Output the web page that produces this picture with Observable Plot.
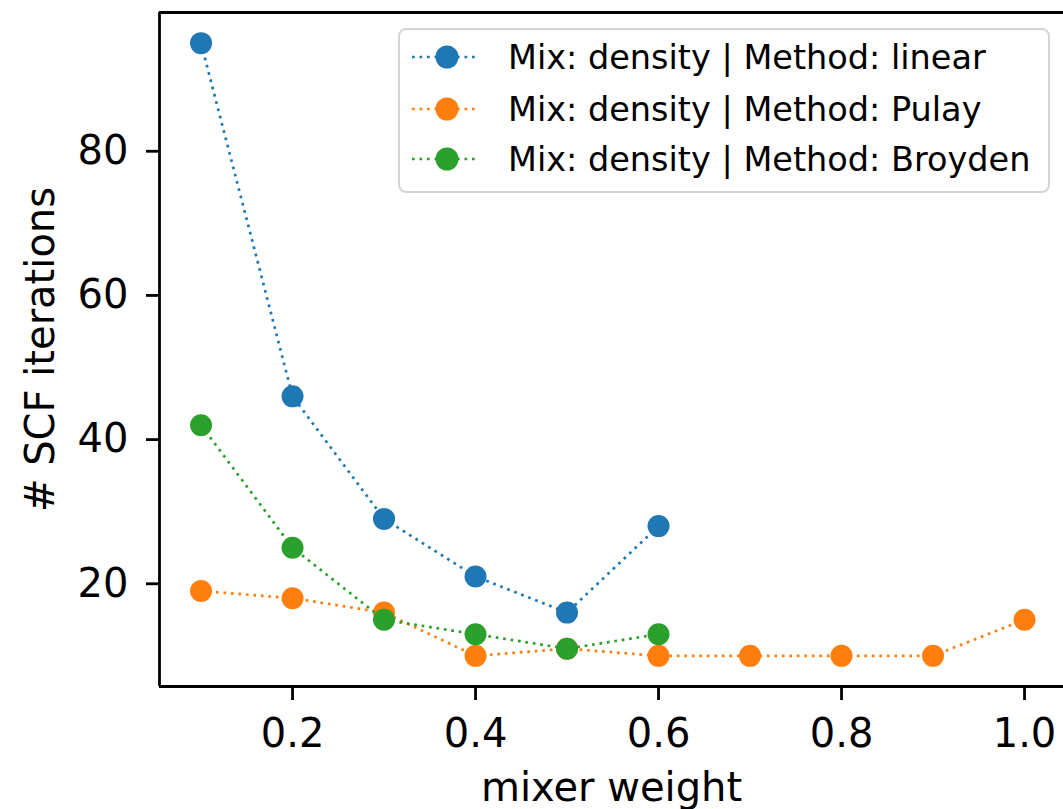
<!DOCTYPE html>
<html>
<head>
<meta charset="utf-8">
<script src="https://cdn.jsdelivr.net/npm/d3@7"></script>
<script src="https://cdn.jsdelivr.net/npm/@observablehq/plot@0.6"></script>
<style>
  html, body { margin: 0; padding: 0; background: #fff; }
  #wrap { position: relative; width: 1063px; height: 809px; overflow: hidden; font-family: "DejaVu Sans", sans-serif; }
  #legend { position: absolute; left: 398px; top: 28px; width: 648px; height: 161px; border: 2.5px solid #d4d4d4; border-radius: 8px; background: rgba(255,255,255,0.85); }
  .lrow { position: absolute; left: 0; height: 40px; display: flex; align-items: center; }
  .lrow span { font-size: 33.5px; color: #000; white-space: nowrap; margin-left: 30px; }
</style>
</head>
<body>
<div id="wrap"></div>
<script>
// ---- data ----
const seriesNames = [
  "Mix: density | Method: linear",
  "Mix: density | Method: Pulay",
  "Mix: density | Method: Broyden"
];
const seriesColors = ["#1f77b4", "#ff7f0e", "#2ca02c"];
const mixerWeights = [0.1, 0.2, 0.3, 0.4, 0.5, 0.6, 0.7, 0.8, 0.9, 1.0];
const linearIters  = [95, 46, 29, 21, 16, 28];
const pulayIters   = [19, 18, 16, 10, 11, 10, 10, 10, 10, 15];
const broydenIters = [42, 25, 15, 13, 11, 13];
const xTicks = [0.2, 0.4, 0.6, 0.8, 1.0];
const yTicks = [20, 40, 60, 80];
const xLabel = "mixer weight";
const yLabel = "# SCF iterations";

// ---- build table ----
const allIters = [linearIters, pulayIters, broydenIters];
const rows = [];
allIters.forEach((vals, s) => vals.forEach((v, i) => rows.push({series: seriesNames[s], w: mixerWeights[i], iters: v})));

const xDomain = [0.0546, 1.0426];
const yDomain = [5.75, 99.25];
const dotted = "2.7,4.8";

const seriesMarks = [];
seriesNames.forEach((name, s) => {
  const d = rows.filter(r => r.series === name);
  seriesMarks.push(Plot.line(d, {x: "w", y: "iters", stroke: seriesColors[s], strokeWidth: 2.7, strokeDasharray: dotted, strokeLinecap: "butt"}));
  seriesMarks.push(Plot.dot(d, {x: "w", y: "iters", r: 11, fill: seriesColors[s]}));
});

const chart = Plot.plot({
  width: 1063,
  height: 809,
  marginLeft: 159,
  marginRight: 0,
  marginTop: 12,
  marginBottom: 123,
  x: {domain: xDomain},
  y: {domain: yDomain},
  style: {fontFamily: "DejaVu Sans", background: "white", color: "black", overflow: "visible"},
  marks: [
    ...seriesMarks,
    Plot.ruleX([xDomain[0]], {stroke: "black", strokeWidth: 2.8}),
    Plot.ruleY(yDomain, {stroke: "black", strokeWidth: 2.8}),
    Plot.axisX({ticks: xTicks, tickFormat: d3.format(".1f"), tickSize: 14, tickPadding: 18, fontSize: 40, strokeWidth: 2.8, label: null}),
    Plot.axisY({ticks: yTicks, tickSize: 13, tickPadding: 18, fontSize: 40, strokeWidth: 2.8, label: null}),
    Plot.text([xLabel], {text: d => d, frameAnchor: "bottom", textAnchor: "middle", lineAnchor: "top", dy: 86, fontSize: 40, fill: "black"}),
    Plot.text([yLabel], {text: d => d, frameAnchor: "left", textAnchor: "middle", lineAnchor: "top", rotate: -90, dx: -134, fontSize: 40, fill: "black"})
  ]
});

const wrap = document.getElementById("wrap");
wrap.appendChild(chart);

// ---- legend ----
const legend = document.createElement("div");
legend.id = "legend";
const rowCenters = [27, 79, 129];
seriesNames.forEach((name, s) => {
  const row = document.createElement("div");
  row.className = "lrow";
  row.style.top = (rowCenters[s] - 20) + "px";
  row.style.left = "12px";
  const svg = d3.create("svg").attr("width", 66).attr("height", 40);
  svg.append("line").attr("x1", 0).attr("x2", 66).attr("y1", 20).attr("y2", 20)
    .attr("stroke", seriesColors[s]).attr("stroke-width", 2.7).attr("stroke-dasharray", dotted);
  svg.append("circle").attr("cx", 35).attr("cy", 20).attr("r", 11.5).attr("fill", seriesColors[s]);
  row.appendChild(svg.node());
  const span = document.createElement("span");
  span.textContent = name;
  row.appendChild(span);
  legend.appendChild(row);
});
wrap.appendChild(legend);
</script>
</body>
</html>
